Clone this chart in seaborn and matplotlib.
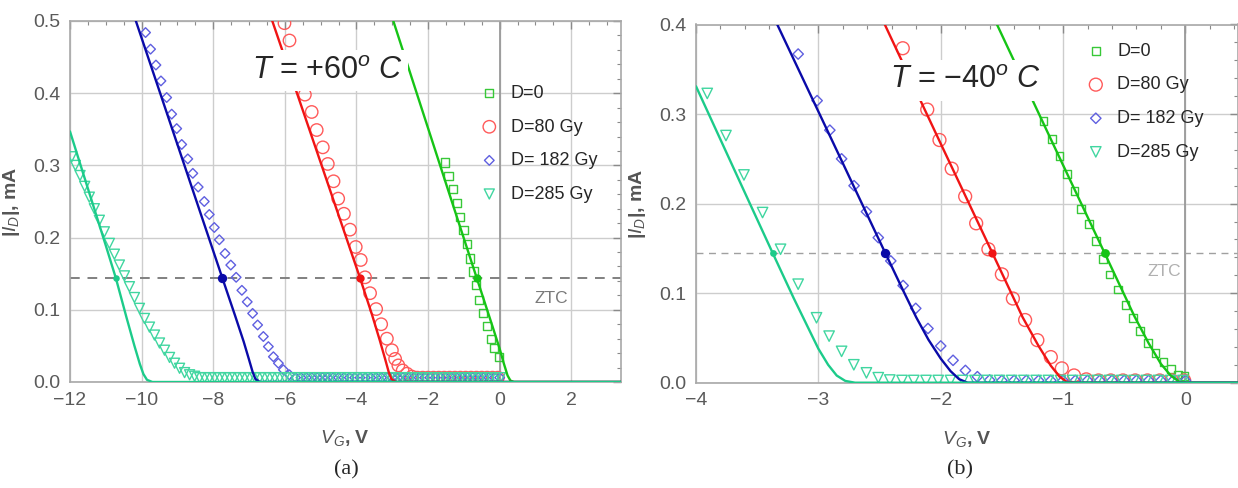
import matplotlib
matplotlib.use('Agg')
import matplotlib.pyplot as plt
from matplotlib.ticker import MultipleLocator, FormatStrFormatter
import seaborn as sns

sns.set_style('white')
plt.rcParams['font.family'] = ['Liberation Sans', 'DejaVu Sans']
plt.rcParams['mathtext.fontset'] = 'custom'
plt.rcParams['mathtext.rm'] = 'Liberation Sans'
plt.rcParams['mathtext.it'] = 'Liberation Sans:italic'
plt.rcParams['mathtext.bf'] = 'Liberation Sans:bold'
plt.rcParams['axes.unicode_minus'] = True

# ---------------- data: panel (a), T = +60 C ----------------
labels = ['D=0', 'D=80 Gy', 'D= 182 Gy', 'D=285 Gy']

a_v0 = [-1.52, -1.43, -1.31, -1.20, -1.11, -1.01, -0.90, -0.82, -0.73, -0.66, -0.57, -0.46, -0.36, -0.25, -0.15, -0.03]
a_i0 = [0.304, 0.285, 0.267, 0.248, 0.229, 0.211, 0.191, 0.171, 0.153, 0.134, 0.114, 0.095, 0.077, 0.060, 0.047, 0.035]

a_v80 = [-6.01, -5.87, -5.73, -5.58, -5.44, -5.25, -5.11, -4.94, -4.80, -4.64, -4.51, -4.35, -4.18, -4.02, -3.88,
         -3.76, -3.62, -3.45, -3.31, -3.15, -3.01, -2.92, -2.83, -2.71, -2.59, -2.45,
         -2.30, -2.15, -2.00, -1.85, -1.70, -1.55, -1.40, -1.25, -1.10, -0.95, -0.80, -0.65, -0.50, -0.35, -0.20, -0.05]
a_i80 = [0.497, 0.473, 0.450, 0.423, 0.398, 0.374, 0.349, 0.325, 0.302, 0.278, 0.254, 0.233, 0.211, 0.187, 0.169,
         0.145, 0.123, 0.101, 0.080, 0.060, 0.044, 0.032, 0.023, 0.016, 0.0115, 0.0075,
         0.006, 0.006, 0.006, 0.006, 0.006, 0.006, 0.006, 0.006, 0.006, 0.006, 0.006, 0.006, 0.006, 0.006, 0.006, 0.006]

a_v182 = [-9.89, -9.75, -9.60, -9.46, -9.30, -9.16, -9.02, -8.88, -8.71, -8.57, -8.42, -8.25, -8.11, -7.97, -7.83, -7.67,
          -7.51, -7.36, -7.20, -7.05, -6.90, -6.76, -6.60, -6.46, -6.32, -6.18, -6.04, -5.87,
          -5.70, -5.55, -5.40, -5.25, -5.10, -4.95, -4.80, -4.65, -4.50, -4.35, -4.20, -4.05, -3.90, -3.75, -3.60,
          -3.45, -3.30, -3.15, -3.00, -2.85, -2.70, -2.55, -2.40, -2.25, -2.10, -1.95, -1.80, -1.65, -1.50, -1.35,
          -1.20, -1.05, -0.90, -0.75, -0.60, -0.45, -0.30, -0.15, 0.00]
a_i182 = [0.484, 0.461, 0.439, 0.417, 0.394, 0.371, 0.351, 0.329, 0.309, 0.289, 0.270, 0.250, 0.232, 0.214, 0.197, 0.178,
          0.162, 0.145, 0.127, 0.111, 0.095, 0.079, 0.063, 0.049, 0.035, 0.026, 0.017, 0.010,
          0.006, 0.006, 0.006, 0.006, 0.006, 0.006, 0.006, 0.006, 0.006, 0.006, 0.006, 0.006, 0.006, 0.006, 0.006,
          0.006, 0.006, 0.006, 0.006, 0.006, 0.006, 0.006, 0.006, 0.006, 0.006, 0.006, 0.006, 0.006, 0.006, 0.006,
          0.006, 0.006, 0.006, 0.006, 0.006, 0.006, 0.006, 0.006, 0.006]

a_v285 = [-11.95, -11.85, -11.72, -11.59, -11.46, -11.32, -11.18, -11.04, -10.90, -10.76, -10.62, -10.48, -10.34,
          -10.20, -10.06, -9.92, -9.78, -9.64, -9.50, -9.36, -9.22, -9.08, -8.94, -8.80, -8.66, -8.52,
          -8.38, -8.24, -8.10, -7.96, -7.82, -7.68, -7.54, -7.40, -7.26, -7.12, -6.98, -6.84, -6.70, -6.56, -6.42,
          -6.28, -6.14, -6.00, -5.86, -5.72, -5.58, -5.44, -5.30, -5.16, -5.02, -4.88, -4.74, -4.60, -4.46, -4.32,
          -4.18, -4.04, -3.90, -3.76, -3.62, -3.48, -3.34, -3.20, -3.06, -2.92, -2.78, -2.64, -2.50, -2.36, -2.22,
          -2.08, -1.94, -1.80, -1.66, -1.52, -1.38, -1.24, -1.10, -0.96, -0.82, -0.68, -0.54, -0.40, -0.26, -0.12, 0.02]
a_i285 = [0.312, 0.300, 0.286, 0.271, 0.256, 0.240, 0.224, 0.208, 0.192, 0.177, 0.162, 0.147, 0.132,
          0.117, 0.102, 0.088, 0.076, 0.065, 0.054, 0.044, 0.034, 0.026, 0.019, 0.013, 0.010, 0.008,
          0.006, 0.006, 0.006, 0.006, 0.006, 0.006, 0.006, 0.006, 0.006, 0.006, 0.006, 0.006, 0.006, 0.006, 0.006,
          0.006, 0.006, 0.006, 0.006, 0.006, 0.006, 0.006, 0.006, 0.006, 0.006, 0.006, 0.006, 0.006, 0.006, 0.006,
          0.006, 0.006, 0.006, 0.006, 0.006, 0.006, 0.006, 0.006, 0.006, 0.006, 0.006, 0.006, 0.006, 0.006, 0.006,
          0.006, 0.006, 0.006, 0.006, 0.006, 0.006, 0.006, 0.006, 0.006, 0.006, 0.006, 0.006, 0.006, 0.006, 0.006, 0.006]

# fitted curves, panel (a)
a_fit0_v = [-3.20, -2.97, -1.50, -0.64, -0.20, 0.00, 0.12, 0.22, 0.30, 0.40, 3.40]
a_fit0_i = [0.535, 0.500, 0.275, 0.144, 0.077, 0.046, 0.025, 0.009, 0.002, 0.0, 0.0]
a_fit80_v = [-6.60, -6.35, -5.00, -3.90, -3.57, -3.35, -3.20, -3.10, -3.02, -2.90, 3.40]
a_fit80_i = [0.536, 0.500, 0.304, 0.144, 0.094, 0.058, 0.032, 0.014, 0.004, 0.0, 0.0]
a_fit182_v = [-10.40, -10.16, -9.00, -7.745, -7.39, -7.15, -7.00, -6.90, -6.82, -6.70, 3.40]
a_fit182_i = [0.535, 0.500, 0.329, 0.144, 0.092, 0.056, 0.031, 0.014, 0.004, 0.0, 0.0]
a_fit285_v = [-12.00, -11.50, -11.00, -10.72, -10.42, -10.20, -10.05, -9.95, -9.85, -9.70, 3.40]
a_fit285_i = [0.347, 0.268, 0.189, 0.144, 0.089, 0.050, 0.025, 0.011, 0.003, 0.0, 0.0]

a_ztc_v = [-0.64, -3.90, -7.745, -10.72]
a_ztc_level = 0.144

# ---------------- data: panel (b), T = -40 C ----------------
b_v0 = [-1.159, -1.088, -1.029, -0.969, -0.906, -0.851, -0.789, -0.729, -0.675, -0.620, -0.552, -0.490, -0.430,
        -0.370, -0.308, -0.245, -0.180, -0.117, -0.058, -0.008]
b_i0 = [0.292, 0.272, 0.253, 0.233, 0.214, 0.194, 0.177, 0.158, 0.138, 0.121, 0.104, 0.087, 0.0725,
        0.0575, 0.0446, 0.0334, 0.023, 0.0156, 0.0093, 0.0074]

b_v80 = [-2.31, -2.21, -2.11, -2.01, -1.91, -1.80, -1.71, -1.61, -1.50, -1.41, -1.31, -1.21, -1.10, -1.01, -0.91, -0.81,
         -0.71, -0.61, -0.51, -0.41, -0.31, -0.21, -0.11, -0.01]
b_i80 = [0.3735, 0.339, 0.305, 0.271, 0.239, 0.208, 0.178, 0.149, 0.121, 0.094, 0.070, 0.0475, 0.0286, 0.016, 0.0081, 0.0037,
         0.0025, 0.0025, 0.0025, 0.0025, 0.0025, 0.0025, 0.0025, 0.0025]

b_v182 = [-3.165, -3.01, -2.906, -2.81, -2.708, -2.607, -2.51, -2.408, -2.307, -2.204, -2.104, -2.00, -1.899, -1.798,
          -1.70, -1.60, -1.50, -1.40, -1.30, -1.20, -1.10, -1.00, -0.90, -0.80, -0.70, -0.60, -0.50, -0.40, -0.30,
          -0.20, -0.10, 0.00]
b_i182 = [0.367, 0.315, 0.282, 0.250, 0.220, 0.191, 0.162, 0.136, 0.1085, 0.083, 0.0605, 0.041, 0.025, 0.0137,
          0.0067, 0.003, 0.0025, 0.0025, 0.0025, 0.0025, 0.0025, 0.0025, 0.0025, 0.0025, 0.0025, 0.0025, 0.0025,
          0.0025, 0.0025, 0.0025, 0.0025, 0.0025]

b_v285 = [-3.908, -3.755, -3.608, -3.456, -3.309, -3.165, -3.015, -2.912, -2.81, -2.71, -2.607, -2.51, -2.416, -2.316,
          -2.22, -2.12, -2.02, -1.92, -1.82, -1.72, -1.62, -1.52, -1.42, -1.32, -1.22, -1.12, -1.02, -0.92, -0.82,
          -0.72, -0.62, -0.52, -0.42, -0.32, -0.22, -0.12, -0.02]
b_i285 = [0.323, 0.276, 0.232, 0.190, 0.149, 0.110, 0.0725, 0.052, 0.035, 0.020, 0.011, 0.0056, 0.003, 0.0025,
          0.0025, 0.0025, 0.0025, 0.0025, 0.0025, 0.0025, 0.0025, 0.0025, 0.0025, 0.0025, 0.0025, 0.0025, 0.0025,
          0.0025, 0.0025, 0.0025, 0.0025, 0.0025, 0.0025, 0.0025, 0.0025, 0.0025, 0.0025]

b_fit0_v = [-1.60, -1.54, -1.10, -0.661, -0.416, -0.30, -0.20, -0.12, -0.05, 0.00, 0.45]
b_fit0_i = [0.417, 0.400, 0.272, 0.145, 0.074, 0.044, 0.021, 0.008, 0.001, 0.0, 0.0]
b_fit80_v = [-2.52, -2.457, -2.00, -1.578, -1.33, -1.20, -1.10, -1.03, -0.97, -0.90, 0.45]
b_fit80_i = [0.418, 0.400, 0.267, 0.145, 0.073, 0.041, 0.019, 0.007, 0.001, 0.0, 0.0]
b_fit182_v = [-3.40, -3.336, -2.90, -2.457, -2.30, -2.20, -2.10, -2.00, -1.92, -1.85, -1.78, 0.45]
b_fit182_i = [0.418, 0.400, 0.274, 0.146, 0.101, 0.073, 0.048, 0.027, 0.013, 0.004, 0.0, 0.0]
b_fit285_v = [-4.00, -3.60, -3.374, -3.20, -3.10, -3.00, -2.92, -2.85, -2.78, -2.70, 0.45]
b_fit285_i = [0.331, 0.212, 0.145, 0.094, 0.066, 0.038, 0.020, 0.008, 0.002, 0.0, 0.0]

b_ztc_v = [-0.661, -1.578, -2.457, -3.374]
b_ztc_level = 0.145

# ---------------- styling ----------------
line_colors = ['#16c416', '#f01414', '#0a0aa8', '#1ccb8a']
mark_colors = ['#38c838', '#ff5a5a', '#5f5fe0', '#40d6a0']
markers = ['s', 'o', 'D', 'v']

W, H = 1238, 488
fig = plt.figure(figsize=(W / 100, H / 100), dpi=100)
ax1 = fig.add_axes([70 / W, 1 - 382 / H, 550.7 / W, 361 / H])
ax2 = fig.add_axes([696 / W, 1 - 382.7 / H, 542 / W, 358.2 / H])

panels = [
    dict(ax=ax1,
         data=[(a_v0, a_i0), (a_v80, a_i80), (a_v182, a_i182), (a_v285, a_i285)],
         fits=[(a_fit0_v, a_fit0_i), (a_fit80_v, a_fit80_i), (a_fit182_v, a_fit182_i), (a_fit285_v, a_fit285_i)],
         ztc_v=a_ztc_v, ztc=a_ztc_level,
         sizes=[34, 80, 24, 52], dotsizes=[36, 36, 45, 22],
         xlim=(-12, 3.38), ylim=(0, 0.5), xmaj=2, xmin=0.5, ymaj=0.1, ymin=0.02,
         title=r'$T$ = +60$^{o}$ $C$', title_xy=(-4.82, 0.431),
         ztc_xy=(1.44, 0.116), ztc_color='#7a7a7a', dash_color='#808080', dash_lw=1.4,
         leg_anchor=(0.745, 0.823)),
    dict(ax=ax2,
         data=[(b_v0, b_i0), (b_v80, b_i80), (b_v182, b_i182), (b_v285, b_i285)],
         fits=[(b_fit0_v, b_fit0_i), (b_fit80_v, b_fit80_i), (b_fit182_v, b_fit182_i), (b_fit285_v, b_fit285_i)],
         ztc_v=b_ztc_v, ztc=b_ztc_level,
         sizes=[30, 86, 28, 56], dotsizes=[40, 36, 45, 24],
         xlim=(-4, 0.43), ylim=(0, 0.4), xmaj=1, xmin=0.2, ymaj=0.1, ymin=0.02,
         title='$T$ = \u221240$^{o}$ $C$', title_xy=(-1.796, 0.338),
         ztc_xy=(-0.171, 0.124), ztc_color='#b0b0b0', dash_color='#a0a0a0', dash_lw=1.0,
         leg_anchor=(0.721, 0.949)),
]

for p in panels:
    ax = p['ax']
    ax.set_axisbelow(True)
    ax.grid(True, which='major', color='#cdcdcd', lw=1.0)
    ax.axvline(0, color='#9a9a9a', lw=1.3, zorder=1)
    ax.axhline(p['ztc'], color=p['dash_color'], lw=p['dash_lw'], ls=(0, (5, 4)), zorder=2)

    for k in range(4):
        fv, fi = p['fits'][k]
        sns.lineplot(x=fv, y=fi, ax=ax, color=line_colors[k], lw=1.7, sort=False,
                     estimator=None, zorder=4)
    for k in range(4):
        dv, di = p['data'][k]
        sns.scatterplot(x=dv, y=di, ax=ax, marker=markers[k], s=p['sizes'][k],
                        facecolor='none', edgecolor=mark_colors[k], linewidth=1.0,
                        label=labels[k], zorder=3)
    for k in range(4):
        sns.scatterplot(x=[p['ztc_v'][k]], y=[p['ztc']], ax=ax, color=line_colors[k],
                        s=p['dotsizes'][k], edgecolor=line_colors[k], linewidth=0, zorder=6)

    ax.text(p['title_xy'][0], p['title_xy'][1], p['title'], fontsize=22, ha='center', va='center',
            zorder=7, bbox=dict(facecolor='white', edgecolor='none', pad=4))
    ax.text(p['ztc_xy'][0], p['ztc_xy'][1], 'ZTC', fontsize=12.5, color=p['ztc_color'],
            ha='center', va='center', zorder=7)

    ax.set_xlim(*p['xlim'])
    ax.set_ylim(*p['ylim'])
    ax.xaxis.set_major_locator(MultipleLocator(p['xmaj']))
    ax.xaxis.set_minor_locator(MultipleLocator(p['xmin']))
    ax.yaxis.set_major_locator(MultipleLocator(p['ymaj']))
    ax.yaxis.set_minor_locator(MultipleLocator(p['ymin']))
    ax.yaxis.set_major_formatter(FormatStrFormatter('%.1f'))
    ax.tick_params(which='both', direction='in', top=True, right=True, colors='#8a8a8a',
                   labelcolor='#5a5a5a', labelsize=14)
    ax.tick_params(which='major', length=6, width=1.0, pad=7)
    ax.tick_params(which='minor', length=3, width=0.8)
    for sp in ax.spines.values():
        sp.set_color('#a8a8a8')
        sp.set_linewidth(1.2)

    ax.set_xlabel(r'$V_G$, V', fontsize=14, color='#555555', fontweight='bold', labelpad=14)
    ax.set_ylabel(r'|$I_D$|, mA', fontsize=14, color='#555555', fontweight='bold', labelpad=8)

    ax.legend(loc='upper left', bbox_to_anchor=p['leg_anchor'], frameon=False, fontsize=13,
              handlelength=1.0, handletextpad=0.7, labelspacing=0.92, borderpad=0,
              borderaxespad=0)

fig.text(346 / W, 1 - 470 / H, '(a)', family='Liberation Serif', fontsize=16, ha='center', va='center')
fig.text(960 / W, 1 - 470 / H, '(b)', family='Liberation Serif', fontsize=16, ha='center', va='center')

fig.savefig('out.png', dpi=100, facecolor='white')
